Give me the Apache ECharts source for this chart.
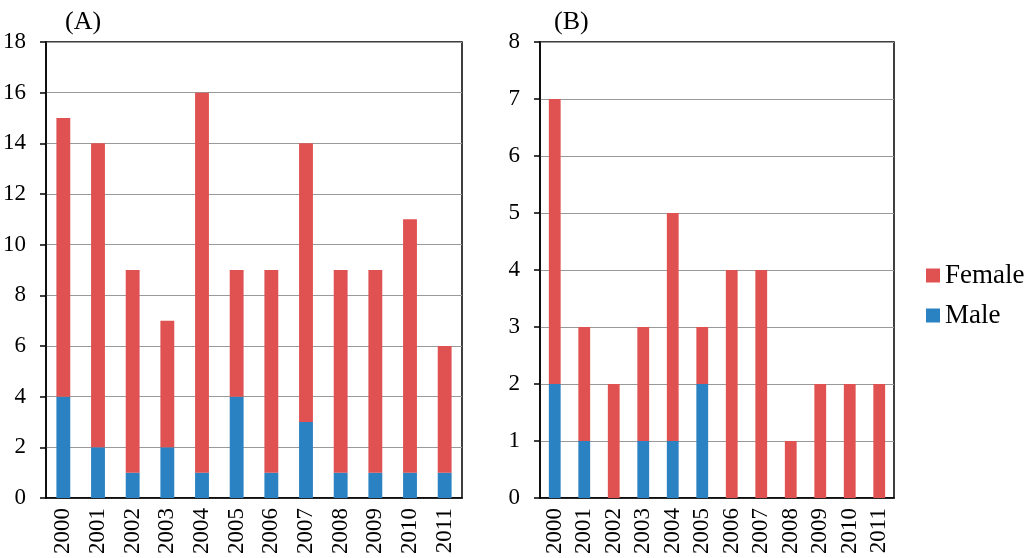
<!DOCTYPE html>
<html><head><meta charset="utf-8">
<script src="https://cdn.jsdelivr.net/npm/echarts@6/dist/echarts.min.js"></script>
<style>html,body{margin:0;padding:0;background:#fff}#c{width:1024px;height:558px}</style>
</head><body><div id="c"></div>
<script>
const years = ['2000','2001','2002','2003','2004','2005','2006','2007','2008','2009','2010','2011'];
const maleA   = [4,2,1,2,1,4,1,3,1,1,1,1];
const femaleA = [11,12,8,5,15,5,8,11,8,8,10,5];
const maleB   = [2,1,0,1,1,2,0,0,0,0,0,0];
const femaleB = [5,2,2,2,4,1,4,4,1,2,2,2];
const RED = '#e05252', BLUE = '#2a82c3';
const FONT = 'Liberation Serif';
const chart = echarts.init(document.getElementById('c'));
function xAx(i){return {type:'category',gridIndex:i,data:years,
  axisLine:{lineStyle:{color:'#000',width:1.5}},axisTick:{show:false},
  axisLabel:{rotate:90,interval:0,hideOverlap:false,color:'#000',fontFamily:FONT,fontSize:23,margin:10}};}
function yAx(i,max){return {type:'value',gridIndex:i,min:0,max:max,interval:i===0?2:1,
  axisLine:{show:true,lineStyle:{color:'#000',width:1.5}},
  axisTick:{show:true,length:6,lineStyle:{color:'#000',width:1.5}},
  splitLine:{lineStyle:{color:'#999',width:1}},
  axisLabel:{color:'#000',fontFamily:FONT,fontSize:23,margin:20}};}
chart.setOption({
  animation:false,
  textStyle:{fontFamily:FONT},
  title:[
    {text:'(A)',left:60,top:4,textStyle:{fontFamily:FONT,fontSize:26,fontWeight:'normal',color:'#000'}},
    {text:'(B)',left:549,top:4,textStyle:{fontFamily:FONT,fontSize:26,fontWeight:'normal',color:'#000'}}
  ],
  legend:{orient:'vertical',left:921,top:257,itemWidth:14,itemHeight:14,itemGap:13,
    data:['Female','Male'],icon:'rect',
    textStyle:{fontFamily:FONT,fontSize:27,color:'#000'}},
  grid:[
    {left:46,top:42,width:416,height:456,show:true,borderColor:'#000',borderWidth:1.5},
    {left:540,top:42,width:354,height:456,show:true,borderColor:'#000',borderWidth:1.5}
  ],
  xAxis:[xAx(0),xAx(1)],
  yAxis:[yAx(0,18),yAx(1,8)],
  series:[
    {name:'Male',type:'bar',stack:'a',xAxisIndex:0,yAxisIndex:0,data:maleA,barWidth:'40%',itemStyle:{color:BLUE}},
    {name:'Female',type:'bar',stack:'a',xAxisIndex:0,yAxisIndex:0,data:femaleA,barWidth:'40%',itemStyle:{color:RED}},
    {name:'Male',type:'bar',stack:'b',xAxisIndex:1,yAxisIndex:1,data:maleB,barWidth:'40%',itemStyle:{color:BLUE}},
    {name:'Female',type:'bar',stack:'b',xAxisIndex:1,yAxisIndex:1,data:femaleB,barWidth:'40%',itemStyle:{color:RED}}
  ]
});
</script></body></html>
